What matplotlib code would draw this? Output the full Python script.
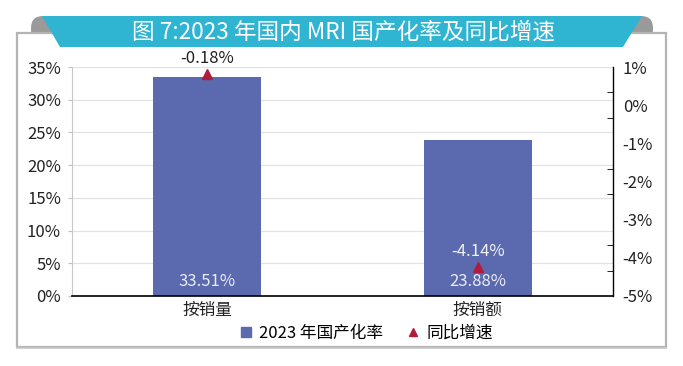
import matplotlib
matplotlib.use("Agg")
import matplotlib.pyplot as plt
from matplotlib.patches import Polygon, Rectangle, FancyBboxPatch
from matplotlib.lines import Line2D
import numpy as np

plt.rcParams['font.family'] = ['Noto Sans CJK SC', 'DejaVu Sans']

# ---- data ----
title = "图 7:2023 年国内 MRI 国产化率及同比增速"
categories = ["按销量", "按销额"]
localization_rate = [33.51, 23.88]          # % (left axis)
growth_labels = ["-0.18%", "-4.14%"]        # printed labels
growth_marker_pos = [0.82, -4.25]           # marker positions as drawn (right axis, %)
legend_labels = ["2023 年国产化率", "同比增速"]
left_ticks = [0, 5, 10, 15, 20, 25, 30, 35]
right_ticks = [1, 0, -1, -2, -3, -4, -5]

BAR = "#5b6aae"
RED = "#b01c3c"
TEAL = "#2fb4d2"

W, H = 683, 366
fig = plt.figure(figsize=(W / 100, H / 100), dpi=100)

# ---- background decoration (pixel coords) ----
bg = fig.add_axes([0, 0, 1, 1], zorder=0)
bg.set_xlim(0, W)
bg.set_ylim(H, 0)
bg.axis("off")
bg.add_patch(FancyBboxPatch((31, 16), 622, 26, boxstyle="round,pad=0,rounding_size=12",
                            fc="#9a9a9a", ec="none"))
bg.add_patch(Rectangle((17, 33), 649, 314, fc="white", ec="#b4b4b4", lw=1.6))
bg.plot([17, 666], [348, 348], color="#c8c8c8", lw=1.2)
bg.add_patch(Polygon([(42, 16), (642, 16), (623, 47), (60, 47)], closed=True,
                     fc=TEAL, ec="none"))
bg.text(343, 32, title, color="white", fontsize=16.3, ha="center", va="center")

# ---- main axes ----
ax = fig.add_axes([72 / W, 1 - 296 / H, (613 - 72) / W, (296 - 67) / H], zorder=1)
ax.patch.set_alpha(0)
x = np.arange(len(categories))
ax.bar(x, localization_rate, width=0.40, color=BAR, zorder=2)
ax.set_xlim(-0.5, len(categories) - 0.5)
ax.set_ylim(0, 35)
ax.set_yticks(left_ticks)
ax.set_yticklabels([f"{t}%" for t in left_ticks], fontsize=12, color="#222222")
ax.set_xticks(x)
ax.set_xticklabels(categories, fontsize=12, color="#222222")
ax.tick_params(axis="x", length=0, pad=4)
ax.tick_params(axis="y", length=3, direction="out", color="#c0c0c0", pad=5)
ax.grid(axis="y", color="#e2e2e2", lw=0.9, zorder=0)
ax.set_axisbelow(True)
for s in ["top", "right"]:
    ax.spines[s].set_visible(False)
ax.spines["left"].set_color("#c8c8c8")
ax.spines["bottom"].set_color("black")
ax.spines["bottom"].set_linewidth(1.2)

for xi, v in zip(x, localization_rate):
    ax.text(xi, 0.9, f"{v:.2f}%", ha="center", va="bottom", color="#e8ecf6", fontsize=12, zorder=4)

ax2 = ax.twinx()
ax2.set_zorder(2)
ax2.set_ylim(-5, 1)
ax2.set_yticks(right_ticks)
ax2.set_yticklabels([f"{t}%" for t in right_ticks], fontsize=12, color="#222222")
ax2.set_yticks(np.linspace(-5, 1, 10), minor=True)
ax2.tick_params(axis="y", which="major", length=0, pad=7)
ax2.tick_params(axis="y", which="minor", length=4, direction="in", color="black")
for s in ["top", "left", "bottom"]:
    ax2.spines[s].set_visible(False)
ax2.spines["right"].set_color("black")
ax2.spines["right"].set_linewidth(1.0)

ax2.plot(x, growth_marker_pos, linestyle="none", marker="^", markersize=6.5,
         color=RED, zorder=5, clip_on=False)
label_colors = ["#222222", "#f0f2f8"]
for xi, yv, lab, c in zip(x, growth_marker_pos, growth_labels, label_colors):
    ax2.annotate(lab, (xi, yv), xytext=(0, 5), textcoords="offset points",
                 ha="center", va="bottom", fontsize=12, color=c, annotation_clip=False)

# ---- legend ----
handles = [Line2D([], [], linestyle="none", marker="s", markersize=7, color=BAR),
           Line2D([], [], linestyle="none", marker="^", markersize=6, color=RED)]
fig.legend(handles, legend_labels, loc="center", bbox_to_anchor=(366 / W, 1 - 333 / H),
           ncol=2, frameon=False, fontsize=12, handlelength=0.8, handletextpad=0.4,
           columnspacing=1.4)

fig.savefig("out.png", dpi=100)
